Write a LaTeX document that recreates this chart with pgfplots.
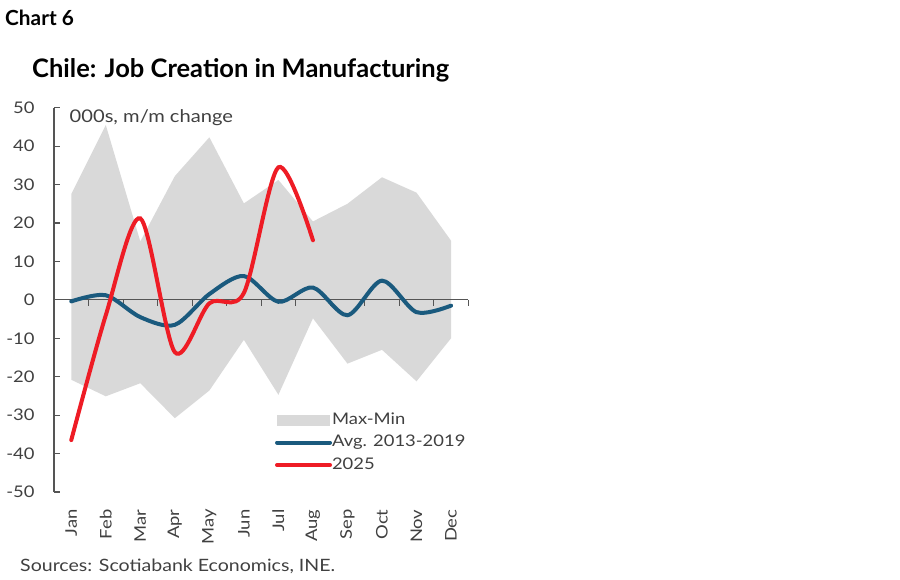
\documentclass[border=0pt]{standalone}
\usepackage{fontspec}
\setmainfont{Lato}[FakeStretch=1.15]
\newfontfamily\titlefont{Lato}
\usepackage{pgfplots}
\usepackage{pgfplotstable}
\pgfplotsset{compat=1.18}
\usepgfplotslibrary{fillbetween}

\definecolor{bandgray}{HTML}{D9D9D9}
\definecolor{avgblue}{HTML}{1A5A7E}
\definecolor{redline}{HTML}{EE1C25}
\definecolor{axisgray}{HTML}{555555}
\definecolor{textgray}{HTML}{404040}

% max-min range 2013-2019, 000s m/m
\pgfplotstableread{
m hi lo
0 27.5 -20.8
1 45.5 -25.1
2 15.2 -21.7
3 32.2 -30.8
4 42.3 -23.6
5 25.1 -10.4
6 31.2 -24.7
7 20.4 -4.8
8 25.0 -16.6
9 31.9 -13.0
10 27.9 -21.2
11 15.4 -10.0
}\band

\pgfplotstableread{
m v
0 -0.4
1 1.2
2 -4.5
3 -6.5
4 1.5
5 6.2
6 -0.5
7 3.2
8 -4.0
9 5.0
10 -3.2
11 -1.5
}\avg

\pgfplotstableread{
m v
0 -36.5
1 -4.0
2 21.2
3 -13.6
4 -0.9
5 1.8
6 34.5
7 15.5
}\cur

\newcommand\lab{\fontsize{16}{18}\selectfont}

\begin{document}
\begin{tikzpicture}
\path (0pt,0pt) rectangle (900pt,579pt);

\node[anchor=base west, inner sep=0pt, font=\titlefont\bfseries\fontsize{20.8}{22}\selectfont] at (5pt,553pt) {Chart 6};
\node[anchor=base west, inner sep=0pt, font=\titlefont\bfseries\fontsize{25.5}{28}\selectfont] at (32pt,501.5pt) {Chile: Job Creation in Manufacturing};
\node[anchor=base west, inner sep=0pt, font=\fontsize{17}{19}\selectfont, text=textgray] at (20pt,7.5pt) {Sources: Scotiabank Economics, INE.};

\begin{axis}[
  at={(54pt,87pt)}, anchor=south west,
  scale only axis, width=414.3pt, height=384.3pt,
  xmin=-0.5, xmax=11.5, ymin=-50, ymax=50,
  clip=false,
  axis line style={draw=none},
  tick align=inside,
  xtick={0,...,11},
  xticklabels={Jan,Feb,Mar,Apr,May,Jun,Jul,Aug,Sep,Oct,Nov,Dec},
  xtick style={draw=none},
  xticklabel style={rotate=90, anchor=east, font=\lab, text=textgray},
  xticklabel shift=14pt,
  ytick={-50,-40,...,50},
  ytick pos=left,
  major tick length=6pt,
  ytick style={line width=1.1pt, color=axisgray},
  yticklabel style={font=\lab, text=textgray},
  yticklabel shift=16pt,
  /pgf/number format/assume math mode=true,
  legend cell align=left,
  legend style={at={(axis description cs:0.533,0.206)}, anchor=north west,
    draw=none, fill=none, inner sep=0pt, row sep=8.5pt, font=\lab, text=textgray,
    nodes={inner sep=0pt, text height=11pt, text depth=3pt},
    /tikz/every even column/.append style={column sep=7pt}},
]
\addplot[name path=hi, draw=none, forget plot] table[x=m, y=hi] {\band};
\addplot[name path=lo, draw=none, forget plot] table[x=m, y=lo] {\band};
\addplot[fill=bandgray, draw=none,
  legend image code/.code={\fill[bandgray] (0pt,-5.5pt) rectangle (53pt,5.5pt);}]
  fill between[of=hi and lo];
\addlegendentry{Max-Min}

\draw[axisgray, line width=1.1pt] (axis cs:-0.5,-50) -- (axis cs:-0.5,50);
\draw[axisgray, line width=1.1pt] (axis cs:-0.5,0) -- (axis cs:11.5,0);
\pgfplotsinvokeforeach{0.5,1.5,2.5,3.5,4.5,5.5,6.5,7.5,8.5,9.5,10.5,11.5}{
  \draw[axisgray, line width=1.1pt] (axis cs:#1,0) -- ++(0pt,-6pt);
}

\addplot[avgblue, line width=4pt, smooth, line cap=round,
  legend image code/.code={\draw[avgblue, line width=4pt, line cap=round] (0pt,0pt) -- (53pt,0pt);}]
  table[x=m, y=v] {\avg};
\addlegendentry{Avg. 2013-2019}

\addplot[redline, line width=4pt, smooth, line cap=round,
  legend image code/.code={\draw[redline, line width=4pt, line cap=round] (0pt,0pt) -- (53pt,0pt);}]
  table[x=m, y=v] {\cur};
\addlegendentry{2025}

\node[anchor=base west, inner sep=0pt, font=\fontsize{17.5}{19}\selectfont, text=textgray] at (axis cs:-0.05,46.2) {000s, m/m change};
\end{axis}
\end{tikzpicture}
\end{document}
